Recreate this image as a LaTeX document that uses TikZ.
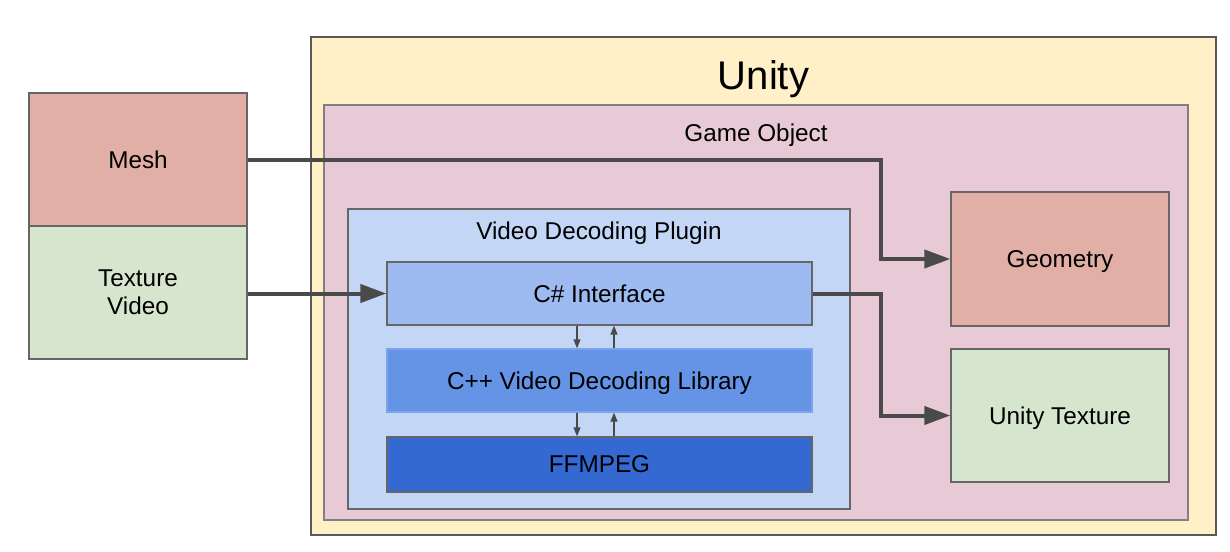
\documentclass[tikz,border=0pt]{standalone}
\usepackage{fontspec}
\setmainfont{Liberation Sans}
\usetikzlibrary{arrows.meta}
\definecolor{unityfill}{HTML}{FFF0C8}
\definecolor{gamefill}{HTML}{E8CAD6}
\definecolor{redfill}{HTML}{E1AFA6}
\definecolor{greenfill}{HTML}{D6E5CD}
\definecolor{pluginfill}{HTML}{C4D6F5}
\definecolor{csfill}{HTML}{9DBBF1}
\definecolor{cppfill}{HTML}{6594E7}
\definecolor{ffmpegfill}{HTML}{3569D2}
\definecolor{bordergray}{HTML}{666666}
\definecolor{arrowgray}{HTML}{4A4A4A}
\tikzset{
  box/.style={draw=bordergray, line width=1.3pt, inner sep=0pt, font=\fontsize{24.3}{28}\selectfont, align=center, text depth=0pt},
  lbl/.style={inner sep=0pt, font=\fontsize{24.3}{28}\selectfont, anchor=base},
  bigarrow/.style={draw=arrowgray, line width=4pt, -{Triangle[length=26pt,width=18pt]}},
  smallarrow/.style={draw=arrowgray, line width=1.3pt, -{Triangle[length=9pt,width=7pt]}}
}
\begin{document}
\begin{tikzpicture}[x=1pt,y=-1pt]
\useasboundingbox[fill=white] (0,0) rectangle (1230,551);
% containers
\node[box, draw=black!65, fill=unityfill, minimum width=905pt, minimum height=498pt] (unity) at (763.5,286) {};
\node[lbl, font=\fontsize{40}{44}\selectfont] (unitylbl) at (763.5,89) {Unity};
\node[box, draw=black!50, fill=gamefill, minimum width=864pt, minimum height=415pt] (game) at (756,312.5) {};
\node[lbl] (gamelbl) at (756,141.5) {Game Object};
\node[box, fill=pluginfill, minimum width=502pt, minimum height=300pt] (plugin) at (599,359) {};
\node[lbl] (pluginlbl) at (599,239) {Video Decoding Plugin};
% inner boxes
\node[box, fill=csfill, minimum width=425pt, minimum height=63pt] (cs) at (599.5,293.5) {C\# Interface};
\node[box, draw=cppfill!85!white, fill=cppfill, minimum width=425pt, minimum height=63pt] (cpp) at (599.5,380.5) {C++ Video Decoding Library};
\node[box, fill=ffmpegfill, minimum width=425pt, minimum height=55pt] (ffmpeg) at (599.5,464.5) {FFMPEG};
% left boxes
\node[box, fill=redfill, minimum width=218pt, minimum height=133pt] (mesh) at (138,159.5) {Mesh};
\node[box, fill=greenfill, minimum width=218pt, minimum height=133pt] (texture) at (138,292.5) {Texture\\Video};
% right boxes
\node[box, fill=redfill, minimum width=218pt, minimum height=134pt] (geometry) at (1060,259) {Geometry};
\node[box, fill=greenfill, minimum width=218pt, minimum height=133pt] (utex) at (1060,415.5) {Unity Texture};
% big connectors
\draw[bigarrow] (mesh.east) -| (881,259) -- (geometry.west);
\draw[bigarrow] (texture.east |- cs.west) -- (cs.west);
\draw[bigarrow] (cs.east) -| (881,415.5) -- (utex.west);
% small connectors
\draw[smallarrow] (cs.south -| 577,0) -- (cpp.north -| 577,0);
\draw[smallarrow] (cpp.north -| 614,0) -- (cs.south -| 614,0);
\draw[smallarrow] (cpp.south -| 577,0) -- (ffmpeg.north -| 577,0);
\draw[smallarrow] (ffmpeg.north -| 614,0) -- (cpp.south -| 614,0);
\end{tikzpicture}
\end{document}
